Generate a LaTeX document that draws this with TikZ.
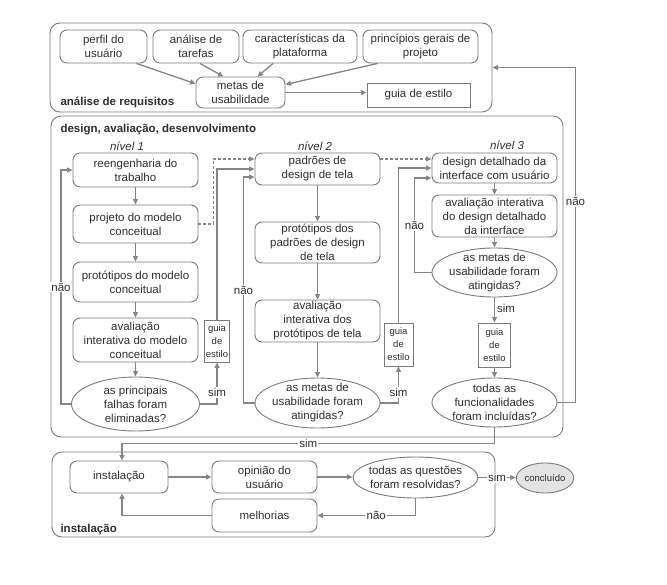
\documentclass[tikz,border=0pt]{standalone}
\usepackage{fontspec}
\setmainfont{Liberation Sans}
\usetikzlibrary{shapes.geometric,arrows.meta,calc}
\definecolor{txt}{HTML}{2E2E2E}
\definecolor{ln}{HTML}{858585}
\definecolor{bd}{HTML}{7A7A7A}
\begin{document}
\begin{tikzpicture}[x=1pt,y=-1pt,
 every node/.style={font=\fontsize{11.5}{14}\selectfont, text=txt},
 container/.style={draw=bd, rounded corners=10pt, line width=0.9pt, inner sep=0pt},
 box/.style={draw=bd, rounded corners=7pt, line width=0.9pt, align=center, inner sep=1pt},
 rbox/.style={draw=bd, line width=0.9pt, align=center, inner sep=1pt},
 smallbox/.style={rbox, font=\fontsize{9.5}{13}\selectfont},
 dec/.style={draw=bd, ellipse, line width=0.9pt, inner sep=0pt},
 etext/.style={align=center, text=txt},
 arr/.style={draw=ln, line width=1.3pt, -{Triangle[length=5.5pt,width=5pt]}},
 dashedarr/.style={arr, dash pattern=on 3pt off 2pt},
 lbl/.style={fill=white, inner sep=1.2pt},
 title/.style={anchor=base west, font=\fontsize{11.5}{14}\selectfont\bfseries},
 level/.style={font=\fontsize{11.5}{14}\selectfont\itshape}]
\useasboundingbox (0,0) rectangle (667,584);

% containers
\node[container, minimum width=442, minimum height=89] (req) at (271,67.5) {};
\node[container, minimum width=512, minimum height=321] (des) at (307,276.5) {};
\node[container, minimum width=443, minimum height=85] (ins) at (273.5,494.5) {};
\node[title] (treq) at (57,105) {análise de requisitos};
\node[title] (tdes) at (57,132) {design, avaliação, desenvolvimento};
\node[title] (tins) at (57,532) {instalação};

% top
\node[box, minimum width=87, minimum height=33] (perfil) at (103.5,46.5) {perfil do\\usuário};
\node[box, minimum width=86, minimum height=33] (tarefas) at (196,46.5) {análise de\\tarefas};
\node[box, minimum width=114, minimum height=33] (plat) at (300,46.5) {características da\\plataforma};
\node[box, minimum width=115, minimum height=33] (princ) at (420.5,46.5) {princípios gerais de\\projeto};
\node[box, minimum width=89, minimum height=31] (metas) at (240.5,92.5) {metas de\\usabilidade};
\node[rbox, minimum width=103, minimum height=24] (guia0) at (418.5,95) {guia de estilo};

\draw[arr] ([xshift=33]perfil.south) -- (metas.169);
\draw[arr] ([xshift=4]tarefas.south) -- ([xshift=-17]metas.north);
\draw[arr] ([xshift=-27]plat.south) -- ([xshift=17]metas.north);
\draw[arr] ([xshift=-43]princ.south) -- ([yshift=8]metas.east);
\draw[arr] (metas.east) -- (metas.east -| guia0.west);

% installation nodes
\node[box, minimum width=98, minimum height=32] (inst) at (119,477) {instalação};
\node[box, minimum width=105, minimum height=32] (opin) at (264.5,477) {opinião do\\usuário};
\node[box, minimum width=105, minimum height=33] (melh) at (264.5,515.5) {melhorias};
\node[dec, minimum width=125, minimum height=41, label={[etext]center:{todas as questões\\foram resolvidas?}}] (eq) at (415.5,477.5) {};
\node[dec, fill=gray!22, minimum width=56, minimum height=30, font=\fontsize{9.5}{12}\selectfont] (conc) at (545,478) {concluído};

% level 1
\node[level] (n1) at (127,146.5) {nível 1};
\node[box, minimum width=125, minimum height=34] (r1) at (135.5,170) {reengenharia do\\trabalho};
\node[box, minimum width=125, minimum height=38] (p1) at (135.5,224) {projeto do modelo\\conceitual};
\node[box, minimum width=125, minimum height=40] (pt1) at (135.5,282) {protótipos do modelo\\conceitual};
\node[box, minimum width=125, minimum height=44] (a1) at (135.5,340) {avaliação\\interativa do modelo\\conceitual};
\node[dec, minimum width=128, minimum height=54, label={[etext]center:{as principais\\falhas foram\\eliminadas?}}] (e1) at (135.5,404) {};
\node[smallbox, minimum width=22, minimum height=42] (g1) at (217,341) {guia\\de\\estilo};

\draw[arr] (r1) -- (p1);
\draw[arr] (p1) -- (pt1);
\draw[arr] (pt1) -- (a1);
\draw[arr] (a1) -- (e1);
\draw[arr] (e1.east) -| node[lbl, pos=0.64] {sim} (g1.south);
\draw[arr] (e1.west) -- ++(-10,0) |- node[lbl, pos=0.25] {não} (r1.west);

% level 2
\node[level] (n2) at (315,146.5) {nível 2};
\node[box, minimum width=125, minimum height=32] (r2) at (317.5,169) {padrões de\\design de tela};
\node[box, minimum width=125, minimum height=41] (pt2) at (317.5,242.5) {protótipos dos\\padrões de design\\de tela};
\node[box, minimum width=125, minimum height=42] (a2) at (317.5,321) {avaliação\\interativa dos\\protótipos de tela};
\node[dec, minimum width=125, minimum height=50, label={[etext]center:{as metas de\\usabilidade foram\\atingidas?}}] (e2) at (317.5,403) {};
\node[smallbox, minimum width=29, minimum height=43] (g2) at (398.5,344.5) {guia\\de\\estilo};

\draw[dashedarr] (p1.east) -- ++(15,0) |- ([yshift=10]r2.west);
\draw[arr] (g1.north) |- (r2.west);
\draw[arr] (r2) -- (pt2);
\draw[arr] (pt2) -- (a2);
\draw[arr] (a2) -- (e2);
\draw[arr] (e2.east) -| node[lbl, pos=0.64] {sim} (g2.south);
\draw[arr] (e2.west) -- ++(-11,0) |- node[lbl, pos=0.25] {não} ([yshift=-8]r2.west);

% level 3
\node[level] (n3) at (507,145.5) {nível 3};
\node[box, minimum width=125, minimum height=30] (d3) at (494.5,168) {design detalhado da\\interface com usuário};
\node[box, minimum width=125, minimum height=42] (a3) at (494.5,216) {avaliação interativa\\do design detalhado\\da interface};
\node[dec, minimum width=125, minimum height=49, label={[etext]center:{as metas de\\usabilidade foram\\atingidas?}}] (e3) at (494.5,272.5) {};
\node[smallbox, minimum width=32, minimum height=44] (g3) at (494.5,345) {guia\\de\\estilo};
\node[dec, minimum width=125, minimum height=49, label={[etext]center:{todas as\\funcionalidades\\foram incluídas?}}] (e4) at (494.5,402.5) {};

\draw[dashedarr] ([yshift=10]r2.east) -- ([yshift=9]d3.west);
\draw[arr] (g2.north) |- (d3.west);
\draw[arr] (d3) -- (a3);
\draw[arr] (a3) -- (e3);
\draw[arr] (e3.west) -- ++(-17,0) |- node[lbl, pos=0.25] {não} ([yshift=-10]d3.west);
\draw[arr] (e3) -- node[right, pos=0.45, inner sep=2pt] {sim} (g3);
\draw[arr] (g3) -- (e4);
\draw[arr] (e4.east) -- ++(18,0) |- node[lbl, pos=0.3] {não} (req.east);
\draw[arr] (e4.south) -- ++(0,16) -| node[lbl, pos=0.25] {sim} ([xshift=3]inst.north);

% installation connectors
\draw[arr] (inst) -- (opin);
\draw[arr] (opin.east) -- (opin.east -| eq.west);
\draw[arr] (eq.east) -- node[lbl] {sim} (eq.east -| conc.west);
\draw[arr] (eq.south) |- node[lbl, pos=0.7] {não} (melh.east);
\draw[arr] (melh.west) -| ([xshift=3]inst.south);
\end{tikzpicture}
\end{document}
